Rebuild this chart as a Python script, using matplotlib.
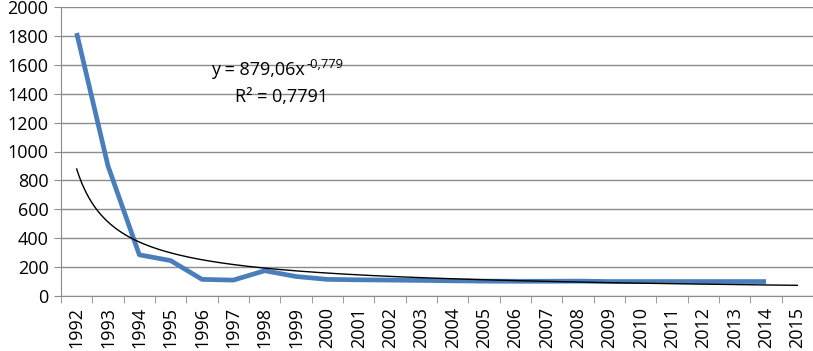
import numpy as np
import matplotlib.pyplot as plt

# data
years = list(range(1992, 2016))
values = [1820, 900, 285, 245, 115, 110, 175, 135, 115, 112, 110, 108,
          105, 103, 102, 102, 103, 100, 100, 100, 100, 100, 100]
# power trendline shown on the chart: y = a * x^b
trend_a = 879.06
trend_b = -0.779
eq_text = 'y = 879,06x'
eq_sup = '-0,779'
r2_text = 'R² = 0,7791'

plt.rcParams['font.family'] = ['Open Sans', 'DejaVu Sans']

fs = 13

fig = plt.figure(figsize=(8.13, 3.51), dpi=100)
ax = fig.add_axes([61 / 813, 55 / 351, 752 / 813, 289 / 351])

n = len(years)
xpos = np.arange(len(values))
ax.plot(xpos, values, color='#4A7EBB', lw=3.4, solid_capstyle='butt', zorder=3)

xt = np.linspace(1, n, 300)
ax.plot(xt - 1, trend_a * xt ** trend_b, color='black', lw=1.0, zorder=4)

ax.set_xlim(-0.5, n - 0.5)
ax.set_ylim(0, 2000)
ax.set_yticks(range(0, 2001, 200))
ax.yaxis.grid(True, color='#8C8C8C', lw=1.0)
ax.set_axisbelow(True)

ax.set_xticks(np.arange(n))
ax.set_xticklabels([str(y) for y in years], rotation=90)
ax.set_xticks(np.arange(-0.5, n, 1), minor=True)
ax.tick_params(axis='x', which='major', length=0, pad=8, labelsize=fs)
ax.tick_params(axis='x', which='minor', length=5, color='#8C8C8C')
ax.tick_params(axis='y', length=5, color='#8C8C8C', labelsize=fs, pad=4)

for s in ['top', 'right']:
    ax.spines[s].set_visible(False)
for s in ['left', 'bottom']:
    ax.spines[s].set_color('#8C8C8C')

t1 = ax.text(0.262, 0.782, eq_text, transform=ax.transAxes, ha='center', va='center', fontsize=fs)
ax.annotate(eq_sup, xy=(1, 1), xycoords=t1, xytext=(1, 2), textcoords='offset points',
            ha='left', va='top', fontsize=fs * 0.72)
ax.text(0.293, 0.689, r2_text, transform=ax.transAxes, ha='center', va='center', fontsize=fs)

fig.savefig('out.png', dpi=100)
